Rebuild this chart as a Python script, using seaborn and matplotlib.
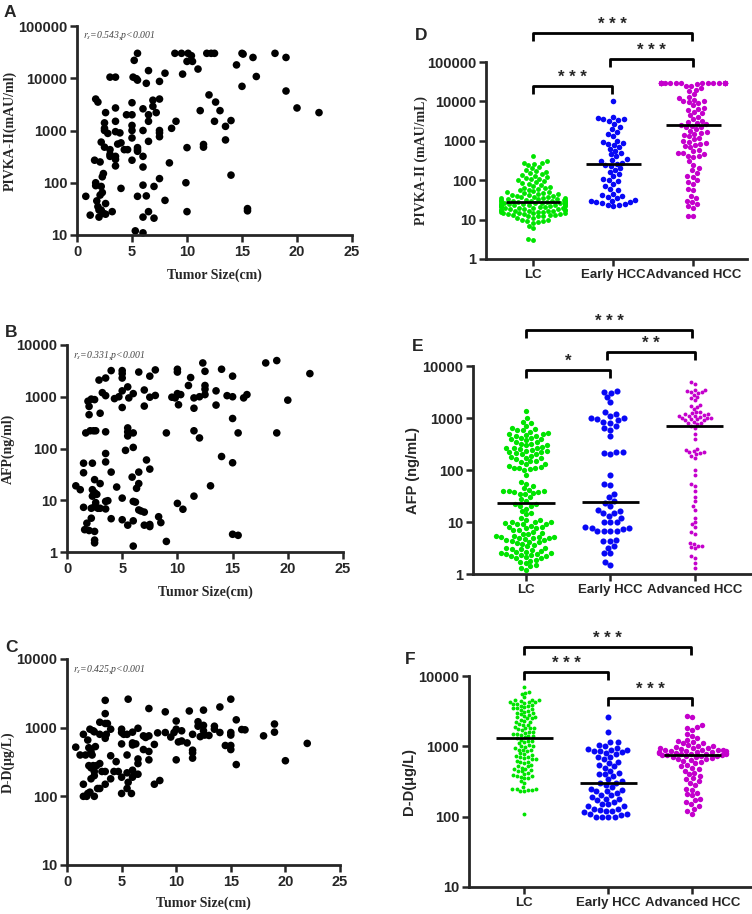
import numpy as np
import matplotlib
matplotlib.use('Agg')
from matplotlib import pyplot as plt
from matplotlib.ticker import NullLocator
import seaborn as sns

sns.set_style('ticks')
plt.rcParams['font.family'] = ['Liberation Sans', 'DejaVu Sans']
plt.rcParams['mathtext.fontset'] = 'stix'

# ---- scatter data (tumor size cm, marker value) ----
a_pts = [(0.8, 55), (1.2, 24), (1.6, 270), (1.7, 100), (1.7, 88), (1.7, 4000), (1.9, 3500), (1.8, 45),
         (1.9, 35), (2.0, 30), (2.0, 22), (2.1, 250), (2.1, 58), (2.2, 85), (2.2, 600), (2.3, 65),
         (2.2, 30), (2.3, 130), (2.4, 150), (2.4, 26), (2.5, 1400), (2.5, 1100), (2.5, 480), (2.5, 1000),
         (2.6, 2200), (2.6, 40), (2.6, 25), (2.8, 880), (3.0, 10500), (3.0, 430), (3.0, 350), (3.0, 320),
         (3.2, 28), (3.5, 10500), (3.5, 2700), (3.5, 1500), (3.5, 950), (3.5, 320), (3.5, 280), (3.5, 210),
         (3.7, 550), (3.9, 900), (4.0, 580), (4.0, 78), (4.3, 430), (4.5, 2000), (4.6, 430), (5.0, 3400),
         (5.0, 2000), (5.0, 1250), (5.0, 1000), (5.0, 720), (5.0, 270), (5.1, 10500), (5.2, 22000), (5.3, 12),
         (5.5, 30000), (5.4, 9800), (5.5, 9200), (5.5, 470), (5.5, 430), (5.5, 400), (5.5, 55), (6.0, 2600),
         (6.0, 1000), (6.0, 320), (6.0, 200), (6.0, 90), (6.0, 22), (6.0, 11), (6.3, 8000), (6.3, 56),
         (6.5, 14000), (6.5, 2000), (6.5, 1500), (6.5, 620), (6.5, 28), (6.9, 3800), (6.9, 2900), (7.0, 85),
         (7.0, 21), (7.2, 2200), (7.5, 8700), (7.5, 4000), (7.5, 1000), (7.5, 900), (7.5, 760), (7.5, 120),
         (8.0, 12500), (8.0, 46), (8.4, 240), (8.6, 1100), (8.9, 30000), (9.0, 1500), (9.5, 30000), (9.6, 12000),
         (10.0, 21000), (10.0, 470), (9.9, 100), (10.0, 28), (10.1, 30000), (10.4, 27000), (10.5, 21000),
         (11.0, 15000), (11.2, 2400), (11.5, 540), (11.5, 480), (11.8, 30000), (12.0, 4800), (12.2, 30000),
         (12.5, 30000), (12.6, 3500), (12.5, 1500), (13.0, 2400), (13.5, 1200), (13.5, 660), (14.0, 1550),
         (14.0, 140), (14.5, 18000), (15.0, 30000), (15.1, 29000), (15.0, 7000), (15.5, 32), (15.5, 29),
         (16.0, 25000), (16.3, 10800), (18.0, 30000), (19.0, 25000), (19.0, 5700), (20.0, 2700), (22.0, 2200)]

b_pts = [(0.8, 19), (1.2, 16), (1.5, 52), (1.5, 34), (1.5, 7.3), (1.6, 2.7), (1.7, 200), (1.8, 3.6),
         (1.9, 820), (2.0, 650), (2.0, 450), (2.0, 2.6), (2.1, 220), (2.2, 900), (2.2, 7), (2.2, 4.5),
         (2.3, 52), (2.3, 12), (2.3, 16), (2.4, 220), (2.5, 880), (2.5, 14), (2.5, 7.5), (2.5, 25),
         (2.5, 2.5), (2.5, 1.7), (2.5, 1.5), (2.6, 220), (2.6, 9), (2.7, 13), (2.8, 7), (2.9, 2100),
         (3.0, 480), (3.0, 21), (3.0, 7), (3.2, 1200), (3.5, 2300), (3.5, 1050), (3.5, 210), (3.5, 80),
         (3.5, 55), (3.5, 9.5), (3.5, 6.8), (3.7, 9.8), (4.0, 3200), (4.0, 35), (4.0, 4.4), (4.3, 920),
         (4.5, 18), (4.7, 1000), (5.0, 3200), (5.0, 2800), (5.0, 2300), (5.0, 1300), (5.0, 620), (5.0, 11),
         (5.0, 4.2), (5.3, 92), (5.5, 1550), (5.5, 250), (5.5, 210), (5.5, 175), (5.5, 3.3), (5.6, 950),
         (5.9, 28), (6.0, 1150), (6.0, 200), (6.0, 105), (6.0, 9.5), (6.0, 4.0), (6.0, 1.3), (6.2, 9.2),
         (6.3, 17), (6.5, 3000), (6.5, 35), (6.5, 21), (6.5, 6.5), (6.7, 6.2), (7.0, 1350), (7.0, 660),
         (7.0, 5.9), (7.0, 3.3), (7.2, 60), (7.5, 2500), (7.5, 980), (7.5, 40), (7.5, 3.4), (7.5, 3.1),
         (8.0, 3300), (8.0, 1060), (8.3, 4.8), (8.5, 3.7), (9.0, 200), (9.0, 1.6), (9.5, 980), (9.8, 950),
         (10.0, 3400), (10.0, 3000), (10.0, 1150), (10.1, 700), (10.0, 8.7), (10.3, 1100), (10.5, 6.7),
         (11.0, 1650), (11.2, 2350), (11.5, 950), (11.5, 600), (11.5, 220), (11.5, 12), (12.0, 1000),
         (12.0, 160), (12.3, 4500), (12.5, 3100), (12.5, 1650), (12.5, 1400), (12.5, 1100), (13.0, 19),
         (13.5, 1300), (13.5, 690), (14.0, 3400), (14.0, 70), (14.5, 1050), (15.0, 2500), (15.0, 1000),
         (15.0, 380), (15.0, 53), (15.0, 2.2), (15.5, 200), (15.5, 2.1), (16.0, 950), (16.3, 1100),
         (18.0, 4500), (19.0, 5000), (19.0, 200), (20.0, 860), (22.0, 2800)]

c_pts = [(0.8, 520), (1.2, 400), (1.5, 800), (1.5, 150), (1.5, 100), (1.7, 400), (1.8, 100), (1.9, 660),
         (1.9, 110), (2.0, 510), (2.0, 280), (2.1, 950), (2.1, 115), (2.2, 450), (2.2, 260), (2.2, 180),
         (2.3, 400), (2.4, 900), (2.4, 280), (2.5, 870), (2.5, 230), (2.5, 200), (2.5, 100), (2.6, 530),
         (2.7, 280), (2.8, 130), (3.0, 1200), (3.0, 800), (3.0, 300), (3.0, 130), (3.2, 230), (3.5, 2500),
         (3.5, 1600), (3.5, 1150), (3.5, 700), (3.5, 230), (3.5, 150), (3.6, 800), (3.7, 1150), (4.0, 950),
         (4.0, 390), (4.0, 180), (4.3, 230), (4.5, 320), (4.7, 230), (5.0, 950), (5.0, 850), (5.0, 580),
         (5.0, 190), (5.0, 110), (5.2, 800), (5.5, 800), (5.5, 400), (5.5, 220), (5.5, 130), (5.6, 2600),
         (5.6, 160), (5.9, 110), (6.0, 860), (6.0, 600), (6.0, 560), (6.0, 240), (6.0, 190), (6.2, 210),
         (6.3, 580), (6.5, 980), (6.5, 350), (6.5, 300), (6.5, 210), (7.0, 760), (7.0, 480), (7.2, 720),
         (7.5, 1900), (7.5, 760), (7.5, 450), (7.5, 340), (8.0, 570), (8.0, 150), (8.3, 840), (8.5, 170),
         (9.0, 1700), (9.0, 850), (9.5, 730), (9.8, 850), (10.0, 1250), (10.0, 950), (10.0, 340), (10.2, 620),
         (10.5, 900), (10.5, 640), (11.0, 600), (11.2, 1750), (11.5, 800), (11.5, 470), (11.5, 430), (11.5, 360),
         (12.0, 1220), (12.0, 1050), (12.2, 740), (12.5, 1800), (12.5, 1080), (12.5, 900), (12.6, 780),
         (13.0, 770), (13.5, 1050), (13.5, 950), (14.0, 2000), (14.0, 850), (14.5, 550), (15.0, 2600),
         (15.0, 850), (15.0, 780), (15.0, 550), (15.0, 480), (15.5, 1300), (15.5, 290), (16.0, 940),
         (16.3, 930), (18.0, 760), (19.0, 1130), (19.0, 860), (20.0, 330), (22.0, 590)]

# ---- group data ----
groups = ['LC', 'Early HCC', 'Advanced HCC']
colors = ['#00E400', '#0808F5', '#C400CC']

d_lc = [3, 3.2, 6, 7, 8, 8.5, 9, 9, 10, 10, 11, 11, 12, 12, 12, 13, 13, 13, 14, 14, 14, 15, 15, 15, 15,
        16, 16, 16, 17, 17, 17, 17, 18, 18, 18, 18, 19, 19, 19, 20, 20, 20, 20, 21, 21, 21, 22, 22, 22,
        23, 23, 23, 24, 24, 24, 25, 25, 25, 26, 26, 26, 27, 27, 27, 28, 28, 28, 29, 29, 30, 30, 30, 31,
        31, 32, 32, 33, 33, 34, 35, 35, 36, 37, 38, 38, 40, 40, 42, 43, 45, 45, 47, 48, 50, 50, 52, 55,
        58, 60, 62, 65, 68, 70, 75, 80, 85, 90, 95, 100, 105, 110, 115, 120, 130, 135, 140, 150, 160,
        170, 180, 200, 220, 240, 260, 270, 280, 300, 400]
d_early = [22, 23, 24, 25, 26, 28, 28, 29, 30, 32, 35, 38, 40, 42, 45, 55, 60, 70, 80, 95, 100, 110, 125,
           140, 160, 180, 200, 230, 250, 260, 280, 300, 320, 340, 400, 450, 500, 560, 620, 700, 780, 850,
           900, 950, 1000, 1300, 1500, 1700, 2000, 2200, 2700, 3200, 3300, 3500, 3500, 3800, 4000, 10500]
d_adv = [30000] * 22 + [27000, 25000, 24000, 22000, 20000, 18000, 15000, 13000, 12000, 11000, 10000,
                        10000, 9500, 9000, 8000, 7000, 6500, 6000, 5500, 5000, 4500, 4000, 3500, 3200,
                        3000, 2800, 2600, 2500, 2400, 2300, 2200, 2000, 1800, 1700, 1600, 1500, 1400,
                        1300, 1200, 1100, 1000, 950, 900, 850, 800, 750, 700, 600, 550, 500, 480, 450,
                        420, 400, 380, 300, 250, 200, 180, 150, 130, 120, 100, 90, 80, 60, 55, 40, 35,
                        30, 28, 25, 22, 20, 12, 12]

e_lc = [1.2, 1.3, 1.4, 1.5, 1.6, 1.7, 1.8, 1.9, 2.0, 2.0, 2.1, 2.2, 2.2, 2.3, 2.3, 2.4, 2.4, 2.5, 2.5,
        2.6, 2.7, 2.8, 2.9, 3.0, 3.0, 3.1, 3.2, 3.4, 3.6, 3.8, 4.0, 4.1, 4.2, 4.4, 4.5, 4.6, 4.8, 5.0,
        5.0, 5.0, 5.1, 5.2, 5.2, 5.3, 5.5, 5.8, 6.0, 6.2, 6.5, 7.0, 7.0, 7.5, 7.8, 8.0, 8.0, 8.5, 9.0,
        9.0, 9.2, 9.5, 9.8, 10, 10, 11, 11, 12, 14, 15, 16, 18, 20, 20, 22, 22, 25, 28, 30, 35, 35, 36,
        38, 38, 40, 40, 40, 42, 45, 50, 55, 60, 80, 100, 105, 110, 110, 110, 115, 120, 130, 130, 140,
        150, 150, 160, 170, 170, 180, 190, 200, 200, 210, 220, 220, 230, 230, 240, 250, 260, 260, 270,
        280, 300, 300, 320, 320, 350, 350, 380, 400, 400, 420, 420, 450, 450, 480, 500, 500, 520, 550,
        580, 600, 620, 650, 700, 800, 850, 1000, 1350]
e_early = [1.5, 1.7, 2.5, 2.5, 3.2, 3.5, 4.3, 4.5, 4.3, 6.8, 6.8, 6.8, 6.8, 7.2, 7.5, 7.5, 8, 10, 10, 10,
           12, 13, 15, 15, 16, 17, 20, 23, 25, 30, 35, 52, 55, 80, 200, 210, 220, 220, 450, 600, 650, 700,
           800, 850, 900, 950, 1000, 1000, 1100, 1200, 1300, 2000, 2500, 3000, 3200, 3300]
e_adv = [1.3, 1.6, 2.0, 2.2, 3.2, 3.3, 3.4, 3.5, 3.8, 4, 6.0, 6.5, 8, 9, 10, 12, 17, 20, 25, 30, 40, 50,
         55, 80, 100, 170, 190, 200, 210, 220, 220, 230, 240, 250, 400, 500, 650, 700, 750, 800, 800, 850,
         900, 900, 950, 950, 1000, 1000, 1000, 1050, 1100, 1100, 1100, 1150, 1200, 1200, 1250, 1300,
         1300, 1500, 1600, 1700, 1800, 2200, 2400, 2500, 2800, 3000, 3100, 3200, 3300, 3400, 3500,
         4500, 5000]

f_lc = [110, 230, 235, 240, 240, 245, 250, 250, 260, 300, 320, 350, 360, 370, 380, 380, 390, 400, 420,
        440, 450, 460, 470, 480, 500, 520, 530, 550, 580, 600, 600, 620, 650, 650, 680, 700, 700, 720,
        750, 780, 800, 850, 880, 900, 900, 950, 980, 1000, 1000, 1050, 1100, 1150, 1200, 1200, 1250,
        1300, 1350, 1400, 1400, 1450, 1500, 1500, 1550, 1600, 1600, 1700, 1750, 1800, 1800, 1850, 1900,
        2000, 2000, 2100, 2200, 2200, 2300, 2400, 2500, 2500, 2600, 2600, 2700, 2800, 2900, 3000, 3000,
        3100, 3200, 3300, 3400, 3500, 3500, 3600, 3700, 3800, 3900, 4000, 4000, 4100, 4200, 4200, 4300,
        4400, 4500, 4500, 4600, 5000, 5500, 5800, 6000, 7000]
f_early = [100, 100, 100, 100, 105, 110, 110, 115, 120, 120, 125, 130, 130, 140, 140, 150, 150, 160, 170,
           180, 180, 190, 200, 200, 220, 230, 230, 240, 250, 260, 280, 300, 300, 320, 340, 380, 400, 400,
           420, 450, 500, 520, 550, 580, 600, 650, 700, 700, 780, 800, 820, 850, 850, 880, 900, 920, 950,
           1000, 1050, 1150, 1150, 1600, 2600]
f_adv = [110, 120, 130, 140, 150, 160, 170, 180, 200, 210, 220, 240, 250, 280, 300, 320, 340, 350, 380,
         400, 420, 450, 470, 500, 520, 550, 580, 600, 620, 640, 650, 660, 680, 700, 700, 720, 720, 740,
         750, 750, 760, 770, 780, 780, 790, 800, 800, 810, 820, 830, 840, 850, 860, 870, 880, 890, 900,
         900, 920, 940, 950, 960, 980, 1000, 1000, 1050, 1100, 1100, 1150, 1200, 1250, 1300, 1400, 1500,
         1700, 1800, 1900, 2000, 2600, 2700]

W, H = 752, 914
fig = plt.figure(figsize=(W / 100, H / 100), dpi=100)
SERIF = ['Liberation Serif', 'DejaVu Serif']


def add_ax(l, t, r, b):
    ax = fig.add_axes([l / W, 1 - b / H, (r - l) / W, (b - t) / H])
    return ax


def decade_ticks(ax, lo, hi):
    ticks = [10 ** k for k in range(lo, hi + 1)]
    ax.set_ylim(ticks[0], ticks[-1])
    ax.set_yticks(ticks, [str(t) for t in ticks], fontsize=10.5, fontweight='bold')
    ax.yaxis.set_minor_locator(NullLocator())


def style(ax):
    sns.despine(ax=ax)
    for s in ['left', 'bottom']:
        ax.spines[s].set_linewidth(2)
    ax.tick_params(width=1.8, length=5, pad=2)


def scatter_panel(rect, pts, lo, hi, ylabel, note, letter_xy, lab_x, xlab_y):
    l, t, r, b = rect
    ax = add_ax(*rect)
    xs = [p[0] for p in pts]
    ys = [p[1] for p in pts]
    sns.scatterplot(x=xs, y=ys, color='black', s=30, edgecolor='none', ax=ax, clip_on=False)
    ax.set_yscale('log')
    decade_ticks(ax, lo, hi)
    ax.set_xlim(0, 25)
    ax.set_xticks(range(0, 26, 5), [str(v) for v in range(0, 26, 5)], fontsize=10.5, fontweight='bold')
    style(ax)
    ax.set_ylabel(ylabel, family=SERIF, fontsize=10, fontweight='bold', va='center')
    ax.yaxis.set_label_coords((lab_x - l) / (r - l), 0.5)
    ax.set_xlabel('Tumor Size(cm)', family=SERIF, fontsize=10, fontweight='bold', va='center')
    ax.xaxis.set_label_coords(0.5, (b - xlab_y) / (b - t))
    fig.text((l + 6) / W, 1 - (t + 10) / H, note, family=SERIF, style='italic', fontsize=7,
             color='#444444', va='center')
    fig.text(letter_xy[0] / W, 1 - letter_xy[1] / H, letter_xy[2], fontsize=12.5,
             fontweight='bold', va='top')
    return ax


def swarm_panel(rect, data, sizes, lo, hi, ylabel, yfam, yfs, lab_x, xlim, brackets, letter_xy):
    l, t, r, b = rect
    ax = add_ax(*rect)
    for i, vals in enumerate(data):
        sns.swarmplot(x=[groups[i]] * len(vals), y=vals, order=groups, color=colors[i],
                      size=sizes[i], log_scale=True, ax=ax, warn_thresh=1, linewidth=0)
        ax.hlines(np.median(vals), i - 0.34, i + 0.34, color='black', lw=2, zorder=5)
    decade_ticks(ax, lo, hi)
    ax.set_xlim(*xlim)
    ax.set_xticks([0, 1, 2], groups, fontsize=9.5, fontweight='bold')
    ax.set_xlabel('')
    style(ax)
    ax.set_ylabel(ylabel, family=yfam, fontsize=yfs, fontweight='bold', va='center')
    ax.yaxis.set_label_coords((lab_x - l) / (r - l), 0.5)
    tr = ax.get_xaxis_transform()
    h = b - t
    for x1, x2, ypx, stars in brackets:
        yb = (b - ypx) / h
        d = 8 / h
        ax.plot([x1, x1, x2, x2], [yb - d, yb, yb, yb - d], color='black', lw=2,
                transform=tr, clip_on=False, solid_capstyle='butt')
        ax.text((x1 + x2) / 2, yb + 4 / h, stars, transform=tr, ha='center', va='baseline',
                fontsize=12, fontweight='bold')
    fig.text(letter_xy[0] / W, 1 - letter_xy[1] / H, letter_xy[2], fontsize=12.5,
             fontweight='bold', va='top')
    return ax


scatter_panel((77, 26, 352, 235), a_pts, 1, 5, 'PIVKA-II(mAU/ml)', r'$r_s$=0.543,p<0.001',
              (4, 5, 'A'), 10, 275)
scatter_panel((67, 345, 343, 552), b_pts, 0, 4, 'AFP(ng/ml)', r'$r_s$=0.331,p<0.001',
              (5, 325, 'B'), 8, 592)
scatter_panel((67, 659, 340, 865), c_pts, 1, 4, 'D-D(μg/L)', r'$r_s$=0.425,p<0.001',
              (5, 640, 'C'), 8, 903)

swarm_panel((486, 62, 747, 259), [d_lc, d_early, d_adv], [3.5, 4.0, 3.8], 0, 5,
            'PIVKA-II (mAU/mL)', SERIF, 10, 421, (-0.59, 2.67),
            [(0, 0.98, 86, '* * *'), (0.96, 2.0, 59, '* * *'), (0, 1.98, 33, '* * *')],
            (415, 28, 'D'))
swarm_panel((473, 366, 751, 574), [e_lc, e_early, e_adv], [3.8, 4.4, 2.8], 0, 4,
            'AFP (ng/mL)', ['Liberation Sans'], 10.5, 413, (-0.63, 2.67),
            [(0, 1.0, 370, '*'), (0.96, 2.0, 352, '* *'), (0, 1.97, 330, '* * *')],
            (412, 339, 'E'))
swarm_panel((469, 676, 751, 887), [f_lc, f_early, f_adv], [2.8, 4.3, 3.9], 1, 4,
            'D-D(μg/L)', ['Liberation Sans'], 10.5, 409, (-0.66, 2.7),
            [(0, 1.0, 672, '* * *'), (1.0, 2.0, 698, '* * *'), (0, 1.98, 647, '* * *')],
            (405, 652, 'F'))

fig.savefig('out.png', dpi=100)
